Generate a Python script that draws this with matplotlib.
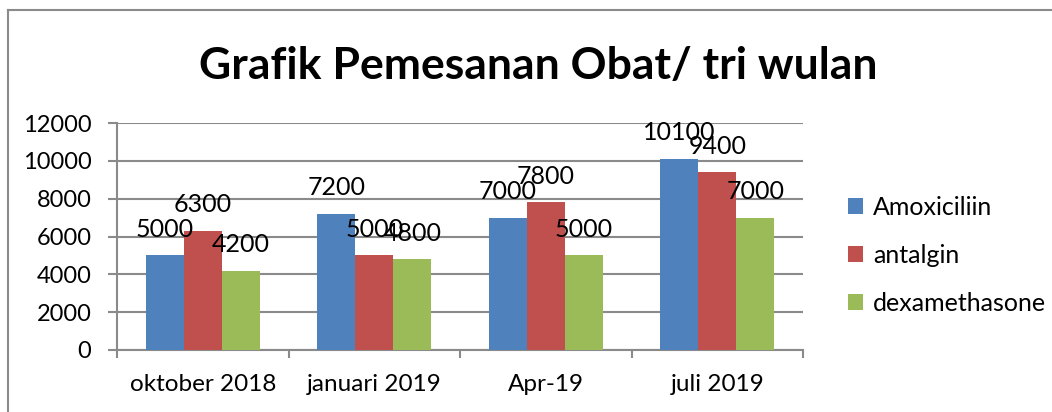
import matplotlib
matplotlib.use("Agg")
import matplotlib.pyplot as plt
from matplotlib.lines import Line2D
import numpy as np

plt.rcParams['font.family'] = ['Lato', 'DejaVu Sans']

categories = ["oktober 2018", "januari 2019", "Apr-19", "juli 2019"]
series_names = ["Amoxiciliin", "antalgin", "dexamethasone"]
amoxiciliin = [5000, 7200, 7000, 10100]
antalgin = [6300, 5000, 7800, 9400]
dexamethasone = [4200, 4800, 5000, 7000]
colors = ["#4F81BD", "#C0504D", "#9BBB59"]
yticks = [0, 2000, 4000, 6000, 8000, 10000, 12000]
title = "Grafik Pemesanan Obat/ tri wulan"

W, H = 1052, 412
fig = plt.figure(figsize=(W / 100, H / 100), dpi=100)
ax = fig.add_axes([117 / W, 62 / H, (803 - 117) / W, (350 - 123) / H])

gray = "#8a8a8a"
fs = 17.5
x = np.arange(len(categories))
bw = 38 / 171.5
series = [amoxiciliin, antalgin, dexamethasone]
for i, (vals, name, c) in enumerate(zip(series, series_names, colors)):
    xs = x + (i - 1) * bw
    ax.bar(xs, vals, width=bw, color=c, label=name, zorder=3)
    for xi, v in zip(xs, vals):
        ax.annotate(str(v), (xi, v), xytext=(0, 26), textcoords='offset pixels',
                    ha='center', va='center', fontsize=fs + 0.5, color='black', zorder=5)

ax.set_xlim(-0.5, len(categories) - 0.5)
ax.set_ylim(0, 12000)
ax.set_yticks(yticks)
ax.set_yticklabels([str(t) for t in yticks])
ax.yaxis.grid(True, color=gray, linewidth=1.5, zorder=0)
ax.set_axisbelow(True)

for s in ["top", "right"]:
    ax.spines[s].set_visible(False)
for s in ["left", "bottom"]:
    ax.spines[s].set_color(gray)
    ax.spines[s].set_linewidth(1.5)

ax.tick_params(axis='y', length=6.5, width=1.5, color=gray, pad=12, labelsize=fs - 0.5)
ax.set_xticks(np.arange(len(categories) + 1) - 0.5)
ax.set_xticklabels([])
ax.set_xticks(x, minor=True)
ax.set_xticklabels(categories, minor=True)
ax.tick_params(axis='x', which='major', length=6, width=1.5, color=gray)
ax.tick_params(axis='x', which='minor', length=0, pad=17, labelsize=fs)

fig.text(538 / W, 1 - 66 / H, title, ha='center', va='center',
         fontsize=32, fontweight='bold')

leg = fig.legend(loc='center left', bbox_to_anchor=(838 / W, 1 - 255.5 / H),
                 frameon=False, fontsize=fs + 0.5, handlelength=0.6, handleheight=0.6,
                 handletextpad=0.4, labelspacing=1.0, borderaxespad=0)

fig.add_artist(Line2D([8 / W, 8 / W], [0, 1 - 10 / H], color=gray, lw=1.5))
fig.add_artist(Line2D([8 / W, 1], [1 - 10 / H, 1 - 10 / H], color=gray, lw=1.5))

fig.savefig("out.png", dpi=100)
